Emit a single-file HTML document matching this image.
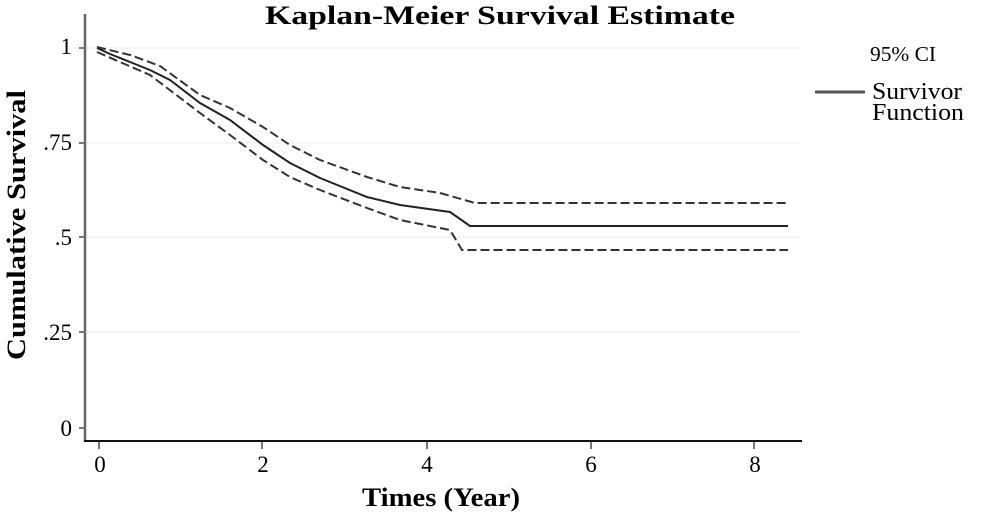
<!DOCTYPE html>
<html><head><style>body{margin:0;background:#fff}</style></head><body>
<svg width="1000" height="515" xmlns="http://www.w3.org/2000/svg" font-family="Liberation Serif, serif">
<rect width="1000" height="515" fill="#fff"/>
<g stroke="#eef4f4" stroke-width="1.5">
<line x1="86" y1="48" x2="800" y2="48"/><line x1="86" y1="143" x2="800" y2="143"/>
<line x1="86" y1="237" x2="800" y2="237"/><line x1="86" y1="332" x2="800" y2="332"/>
</g>
<text x="265" y="24" font-size="26" font-weight="bold" textLength="470" lengthAdjust="spacingAndGlyphs">Kaplan-Meier Survival Estimate</text>
<line x1="85" y1="14" x2="85" y2="442" stroke="#666" stroke-width="2.5"/>
<line x1="84" y1="441" x2="802" y2="441" stroke="#111" stroke-width="2"/>
<g stroke="#777" stroke-width="2">
<line x1="79" y1="48" x2="85" y2="48"/><line x1="79" y1="143" x2="85" y2="143"/><line x1="79" y1="237" x2="85" y2="237"/><line x1="79" y1="332" x2="85" y2="332"/><line x1="79" y1="428" x2="85" y2="428"/>
<line x1="99" y1="442" x2="99" y2="449"/><line x1="262" y1="442" x2="262" y2="449"/><line x1="427" y1="442" x2="427" y2="449"/><line x1="591" y1="442" x2="591" y2="449"/><line x1="754" y1="442" x2="754" y2="449"/>
</g>
<g font-size="23" text-anchor="end">
<text x="72" y="54">1</text><text x="72" y="150">.75</text><text x="72" y="245">.5</text><text x="72" y="340">.25</text><text x="72" y="436">0</text>
</g>
<g font-size="23" text-anchor="middle">
<text x="100" y="472">0</text><text x="263" y="472">2</text><text x="427" y="472">4</text><text x="591" y="472">6</text><text x="755" y="472">8</text>
</g>
<text x="362" y="506" font-size="26" font-weight="bold" textLength="158" lengthAdjust="spacingAndGlyphs">Times (Year)</text>
<text transform="translate(25,360) rotate(-90)" font-size="26" font-weight="bold" textLength="270" lengthAdjust="spacingAndGlyphs">Cumulative Survival</text>
<polyline fill="none" stroke="#222" stroke-width="2" points="97,48 110,54 130,62 150,70 170,80 200,103 230,120 263,145 290,163 320,178 367,197 400,205 450,212 470,226 788,226"/>
<polyline fill="none" stroke="#333" stroke-width="2" stroke-dasharray="9,4" points="97,47 130,55 160,66 200,95 230,108 263,127 290,145 320,160 367,177 400,187 440,193 475,203 788,203"/>
<polyline fill="none" stroke="#333" stroke-width="2" stroke-dasharray="9,4" points="97,52 120,62 150,75 200,113 230,135 263,160 290,177 320,190 367,208 400,220 450,230 462,250 788,250"/>
<text x="870" y="61" font-size="21" textLength="66" lengthAdjust="spacingAndGlyphs">95% CI</text>
<line x1="815" y1="92" x2="865" y2="92" stroke="#555" stroke-width="3"/>
<text x="872" y="99" font-size="24" textLength="90" lengthAdjust="spacingAndGlyphs">Survivor</text>
<text x="872" y="120" font-size="24" textLength="92" lengthAdjust="spacingAndGlyphs">Function</text>
</svg>
</body></html>
